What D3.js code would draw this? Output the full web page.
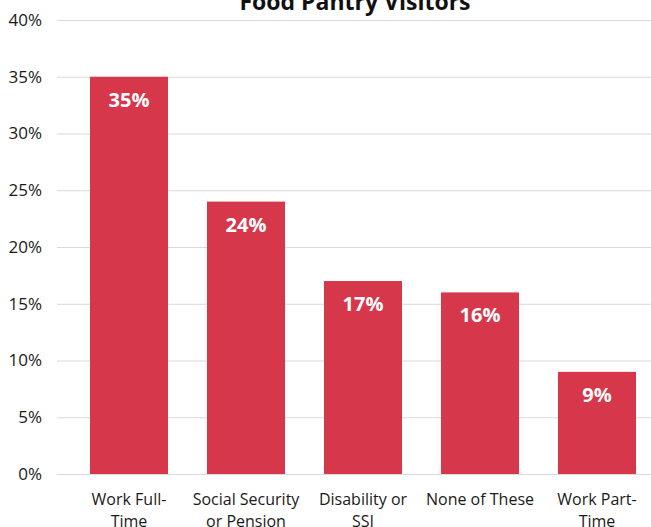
<!DOCTYPE html>
<html><head><meta charset="utf-8">
<script src="https://cdn.jsdelivr.net/npm/d3@7"></script>
<style>body{margin:0;background:#fff}svg{display:block}</style>
</head><body>
<script>
const categories = [["Work Full-","Time"],["Social Security","or Pension"],["Disability or","SSI"],["None of These"],["Work Part-","Time"]];
const values = [35, 24, 17, 16, 9];
const yTicks = [0,5,10,15,20,25,30,35,40];
const title = "Food Pantry Visitors";

const W = 651, H = 527;
const svg = d3.select("body").append("svg").attr("width", W).attr("height", H);
const font = "'Open Sans', sans-serif";
const x = d3.scaleBand().domain(d3.range(values.length)).range([70.5, 655.5]).paddingInner(0.333).paddingOuter(0.1665);
const y = d3.scaleLinear().domain([0, 40]).range([474, 20]);

svg.append("g").selectAll("line").data(yTicks).join("line")
  .attr("x1", 57).attr("x2", W).attr("y1", d => y(d)+0.5).attr("y2", d => y(d)+0.5)
  .attr("stroke", "#d9d9d9").attr("stroke-width", 1);

svg.append("g").selectAll("text").data(yTicks).join("text")
  .attr("x", 42).attr("y", d => y(d)).attr("dy", "0.35em").attr("text-anchor", "end")
  .attr("font-family", font).attr("font-size", 17).attr("fill", "#1a1a1a").text(d => d + "%");

svg.append("g").selectAll("rect").data(values).join("rect")
  .attr("x", (d,i) => x(i)).attr("width", x.bandwidth())
  .attr("y", d => y(d)).attr("height", d => y(0) - y(d)).attr("fill", "#d6374a");

svg.append("g").selectAll("text").data(values).join("text")
  .attr("x", (d,i) => x(i) + x.bandwidth()/2).attr("y", d => y(d) + 30)
  .attr("text-anchor", "middle").attr("font-family", font).attr("font-weight", "bold")
  .attr("font-size", 20).attr("fill", "#fff").text(d => d + "%");

const xl = svg.append("g").selectAll("text").data(categories).join("text")
  .attr("text-anchor", "middle").attr("font-family", font).attr("font-size", 16).attr("fill", "#1a1a1a");
xl.each(function(lines, i) {
  d3.select(this).selectAll("tspan").data(lines).join("tspan")
    .attr("x", x(i) + x.bandwidth()/2).attr("y", (d,j) => 505 + j*22).text(d => d);
});

svg.append("text").attr("x", 355).attr("y", 10).attr("text-anchor", "middle")
  .attr("font-family", font).attr("font-weight", "bold").attr("font-size", 23).attr("fill", "#111").text(title);
</script>
</body></html>
